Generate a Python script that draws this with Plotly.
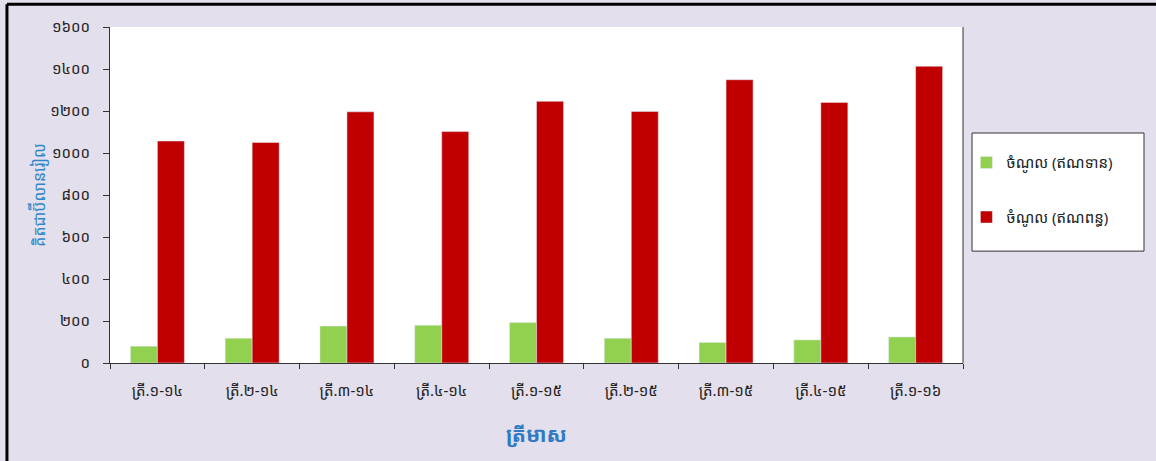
import plotly.graph_objects as go

quarters = ["ត្រី.១-១៤", "ត្រី.២-១៤", "ត្រី.៣-១៤", "ត្រី.៤-១៤", "ត្រី.១-១៥",
            "ត្រី.២-១៥", "ត្រី.៣-១៥", "ត្រី.៤-១៥", "ត្រី.១-១៦"]
credit = [80, 118, 176, 180, 193, 118, 98, 110, 124]
debit = [1057, 1050, 1196, 1102, 1246, 1198, 1349, 1241, 1413]
y_ticks = [0, 200, 400, 600, 800, 1000, 1200, 1400, 1600]
y_ticktext = ["០", "២០០", "៤០០", "៦០០", "៨០០", "១០០០", "១២០០", "១៤០០", "១៦០០"]

FONT = "Noto Sans Khmer, Khmer OS, DejaVu Sans, sans-serif"

fig = go.Figure()
fig.add_trace(go.Bar(
    x=quarters, y=credit, name="ចំណូល (ឥណទាន)",
    marker_color="#92D050", legendgroup="a",
))
fig.add_trace(go.Bar(
    x=quarters, y=debit, name="ចំណូល (ឥណពន្ធ)",
    marker_color="#C00000", legendgroup="b",
))

fig.update_layout(
    width=1156, height=461,
    barmode="group", bargap=0.43, bargroupgap=0,
    paper_bgcolor="#E4DFEC", plot_bgcolor="#FFFFFF",
    font=dict(family=FONT, size=14, color="#222222"),
    margin=dict(l=110, r=193, t=27, b=98),
    showlegend=True,
    legend=dict(
        x=1.004, y=0.645, xanchor="left", yanchor="top",
        bgcolor="rgba(0,0,0,0)", borderwidth=0,
        tracegroupgap=32, font=dict(size=15),
    ),
    xaxis=dict(
        showline=True, linecolor="#333333", linewidth=1,
        ticks="outside", tickson="boundaries", ticklen=5, tickcolor="#333333",
        ticklabelstandoff=14, tickfont=dict(size=15),
        title=dict(text="<b>ត្រីមាស</b>", font=dict(size=21, color="#2E7BC4"), standoff=28),
    ),
    yaxis=dict(
        range=[0, 1600], tickvals=y_ticks, ticktext=y_ticktext,
        showgrid=False, zeroline=False,
        showline=True, linecolor="#333333", linewidth=1,
        ticks="outside", ticklen=6, tickcolor="#333333",
        ticklabelstandoff=10, tickfont=dict(size=15),
        title=dict(text="គិតជាប៊ីលានរៀល", font=dict(size=16, color="#2E86C9"), standoff=0),
    ),
    shapes=[
        # legend box
        dict(type="rect", xref="paper", yref="paper", x0=1.0106, x1=1.2122, y0=0.333, y1=0.6845,
             fillcolor="#FFFFFF", line=dict(color="#333333", width=1), layer="below"),
        # outer frame (top and left)
        dict(type="line", xref="paper", yref="paper", x0=-0.1208, x1=1.23, y0=1.068, y1=1.068,
             line=dict(color="#000000", width=3)),
        dict(type="line", xref="paper", yref="paper", x0=-0.1208, x1=-0.1208, y0=1.068, y1=-0.3,
             line=dict(color="#000000", width=3)),
        # right plot edge
        dict(type="line", xref="paper", yref="paper", x0=1.0, x1=1.0, y0=1.0, y1=0.0,
             line=dict(color="#333333", width=1)),
    ],
)

fig.write_html("out.html", config={"displayModeBar": False},
               post_script="document.body.style.margin='0';")
